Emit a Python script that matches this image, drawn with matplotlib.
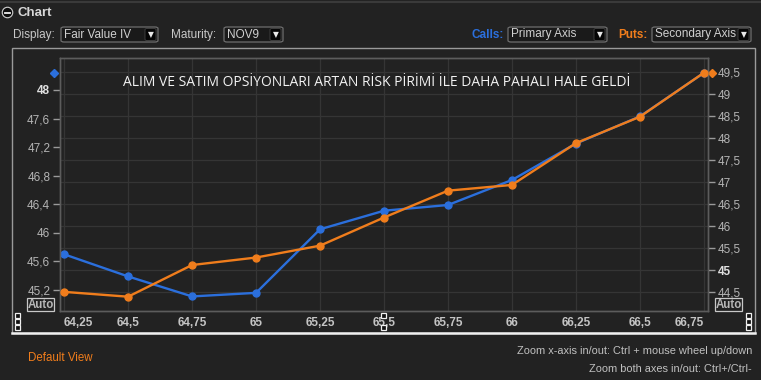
import matplotlib
matplotlib.use("Agg")
import matplotlib.pyplot as plt
from matplotlib.patches import Rectangle, FancyBboxPatch, Ellipse
from matplotlib.lines import Line2D
import matplotlib.transforms as mtransforms

# ---------------- data ----------------
strikes = [64.25, 64.5, 64.75, 65.0, 65.25, 65.5, 65.75, 66.0, 66.25, 66.5, 66.75]
calls_iv = [45.70, 45.39, 45.11, 45.16, 46.05, 46.31, 46.39, 46.74, 47.25, 47.63, 48.24]
puts_iv = [44.51, 44.40, 45.12, 45.29, 45.56, 46.20, 46.81, 46.94, 47.89, 48.49, 49.49]

left_ticks = [45.2, 45.6, 46.0, 46.4, 46.8, 47.2, 47.6, 48.0]
right_ticks = [44.5, 45.0, 45.5, 46.0, 46.5, 47.0, 47.5, 48.0, 48.5, 49.0, 49.5]
left_lim = (44.906, 48.448)
right_lim = (44.075, 49.825)
x_lim = (64.234, 66.766)

title = "ALIM VE SATIM OPSİYONLARI ARTAN RİSK PİRİMİ İLE DAHA PAHALI HALE GELDİ"

BLUE = "#2b6fdc"
ORANGE = "#f07d1c"
BG = "#222222"
LABEL = "#b4b4b4"
UI = "Liberation Sans"

W, H = 761, 380


def fx(x):
    return x / W


def fy(y):
    return 1 - y / H


def fmt(v):
    s = ("%.1f" % v).rstrip("0").rstrip(".")
    return s.replace(".", ",")


def fmt2(v):
    s = ("%.2f" % v).rstrip("0").rstrip(".")
    return s.replace(".", ",")


fig = plt.figure(figsize=(W / 100, H / 100), dpi=100, facecolor=BG)

# ---------------- header UI ----------------
fig.add_artist(Line2D([0, 1], [fy(1.5), fy(1.5)], color="#3a3a3a", lw=1.5))
fig.add_artist(Ellipse((fx(7.5), fy(12.5)), 10.5 / W, 10.5 / H, transform=fig.transFigure,
                       facecolor="#0c0c0c", edgecolor="#d0d0d0", lw=0.8))
fig.add_artist(Line2D([fx(5), fx(10)], [fy(12.5), fy(12.5)], color="#f0f0f0", lw=1.3))
fig.text(fx(18), fy(12.5), "Chart", color="#d8d8d8", fontsize=9.5, fontweight="bold",
         family=UI, va="center", ha="left")


def dropdown(x0, x1, text):
    y0, y1 = 27, 42
    fig.add_artist(FancyBboxPatch((fx(x0), fy(y1)), fx(x1) - fx(x0), fy(y0) - fy(y1),
                                  boxstyle="round,pad=0,rounding_size=0.004",
                                  transform=fig.transFigure, facecolor="#1a1a1a",
                                  edgecolor="#6e6e6e", lw=0.9))
    fig.add_artist(FancyBboxPatch((fx(x1 - 13), fy(y1 - 1.5)), fx(11), fy(0) - fy(12),
                                  boxstyle="round,pad=0,rounding_size=0.003",
                                  transform=fig.transFigure, facecolor="#050505",
                                  edgecolor="#444444", lw=0.6))
    fig.text(fx(x1 - 7.5), fy(34.5), "▼", color="#e8e8e8", fontsize=5.5,
             family="DejaVu Sans", ha="center", va="center")
    fig.text(fx(x0 + 3), fy(34.5), text, color="#d0d0d0", fontsize=8.5, family=UI,
             ha="left", va="center")


fig.text(fx(13), fy(35), "Display:", color="#c8c8c8", fontsize=8.5, family=UI, va="center")
dropdown(61, 158, "Fair Value IV")
fig.text(fx(171), fy(35), "Maturity:", color="#c8c8c8", fontsize=8.5, family=UI, va="center")
dropdown(224, 283, "NOV9")
fig.text(fx(504), fy(35), "Calls:", color=BLUE, fontsize=8.5, fontweight="bold", family=UI,
         va="center", ha="right")
dropdown(508, 607, "Primary Axis")
fig.text(fx(648), fy(35), "Puts:", color=ORANGE, fontsize=8.5, fontweight="bold", family=UI,
         va="center", ha="right")
dropdown(652, 751, "Secondary Axis")

# chart panel border
fig.add_artist(Rectangle((fx(12), fy(333)), fx(755) - fx(12), fy(48) - fy(333),
                         transform=fig.transFigure, facecolor="none",
                         edgecolor="#9a9a9a", lw=1.0))
fig.add_artist(Line2D([fx(12), fx(755)], [fy(333), fy(333)], color="#f0f0f0", lw=1.8))

# ---------------- axes ----------------
ax = fig.add_axes([fx(60), fy(311), fx(708) - fx(60), fy(58) - fy(311)])
ax.set_facecolor(BG)
ax2 = ax.twinx()

ax.set_xlim(*x_lim)
ax.set_ylim(*left_lim)
ax2.set_ylim(*right_lim)

# horizontal gridlines follow the secondary axis ticks (mapped onto primary axis as minor ticks)
span_l = left_lim[1] - left_lim[0]
span_r = right_lim[1] - right_lim[0]
grid_on_left = [left_lim[0] + (v - right_lim[0]) * span_l / span_r for v in right_ticks]
ax.set_yticks(grid_on_left, minor=True)
ax.yaxis.grid(True, which="minor", color="#353535", lw=0.9)
ax.xaxis.grid(True, which="major", color="#353535", lw=0.9)
ax.set_axisbelow(True)
ax.tick_params(axis="y", which="minor", length=0)

ax.plot(strikes, calls_iv, color=BLUE, lw=1.7, marker="o", ms=5, zorder=3)
ax2.plot(strikes, puts_iv, color=ORANGE, lw=1.7, marker="o", ms=5, zorder=3)

# last-value markers at the axes
blue_tr = mtransforms.offset_copy(
    mtransforms.blended_transform_factory(ax.transAxes, ax.transData), fig=fig, x=-6, y=0,
    units="dots")
ax.plot([0], [calls_iv[-1]], marker="D", ms=4, color=BLUE, transform=blue_tr, clip_on=False)
orange_tr = mtransforms.offset_copy(
    mtransforms.blended_transform_factory(ax2.transAxes, ax2.transData), fig=fig, x=4, y=0,
    units="dots")
ax2.plot([1], [puts_iv[-1]], marker="D", ms=4, color=ORANGE, transform=orange_tr, clip_on=False)

for a in (ax, ax2):
    for s in a.spines.values():
        s.set_color("#5c5c5c")
        s.set_linewidth(1.0)

ax.set_yticks(left_ticks)
ax.set_yticklabels([fmt(v) for v in left_ticks])
ax.tick_params(axis="y", which="major", colors="#9a9a9a", labelcolor=LABEL, length=5,
               width=1, pad=2, labelsize=8.5)
ax2.set_yticks(right_ticks)
ax2.set_yticklabels([fmt(v) for v in right_ticks])
ax2.tick_params(axis="y", colors="#9a9a9a", labelcolor=LABEL, length=5, width=1, pad=2,
                labelsize=8.5)
for lab in ax.get_yticklabels() + ax2.get_yticklabels():
    lab.set_family(UI)
for lab, v in zip(ax.get_yticklabels(), left_ticks):
    if v == 48.0:
        lab.set_fontweight("bold")
        lab.set_color("#e0e0e0")
for lab, v in zip(ax2.get_yticklabels(), right_ticks):
    if v == 45.0:
        lab.set_fontweight("bold")
        lab.set_color("#e0e0e0")

ax.set_xticks(strikes)
ax.set_xticklabels([fmt2(v) for v in strikes])
ax.tick_params(axis="x", length=0, pad=4, labelsize=8.5, labelcolor="#c4c4c4")
xl = ax.get_xticklabels()
for lab in xl:
    lab.set_fontweight("bold")
    lab.set_family(UI)
xl[0].set_ha("left")
xl[-1].set_ha("right")

ax.text(0.488, 0.905, title, transform=ax.transAxes, color="#f2f2f2", fontsize=10.0,
        family="Open Sans", ha="center", va="center")

# "Auto" boxes
for x0 in (27, 715):
    fig.add_artist(Rectangle((fx(x0), fy(311)), fx(27), fy(0) - fy(13),
                             transform=fig.transFigure, facecolor="none",
                             edgecolor="#c8c8c8", lw=0.9))
    fig.text(fx(x0 + 13.5), fy(304.5), "Auto", color="#b8b8b8", fontsize=8.3,
             fontweight="bold", family=UI, ha="center", va="center")

# resize handles
def handle(x, y):
    fig.add_artist(Rectangle((fx(x - 2.5), fy(y + 2.5)), fx(5), fy(0) - fy(5),
                             transform=fig.transFigure, facecolor="#101010",
                             edgecolor="#f0f0f0", lw=0.9))


for y in (315, 321, 327):
    handle(17, y)
    handle(748, y)
handle(383, 315)
handle(383, 327)

# footer
fig.text(fx(28), fy(358), "Default View", color=ORANGE, fontsize=8.3, family=UI,
         ha="left", va="center")
fig.text(fx(752), fy(351.5), "Zoom x-axis in/out: Ctrl + mouse wheel up/down",
         color="#c0c0c0", fontsize=7.9, family=UI, ha="right", va="center")
fig.text(fx(752), fy(369), "Zoom both axes in/out: Ctrl+/Ctrl-",
         color="#c0c0c0", fontsize=7.9, family=UI, ha="right", va="center")

fig.savefig("out.png", dpi=100, facecolor=BG)
